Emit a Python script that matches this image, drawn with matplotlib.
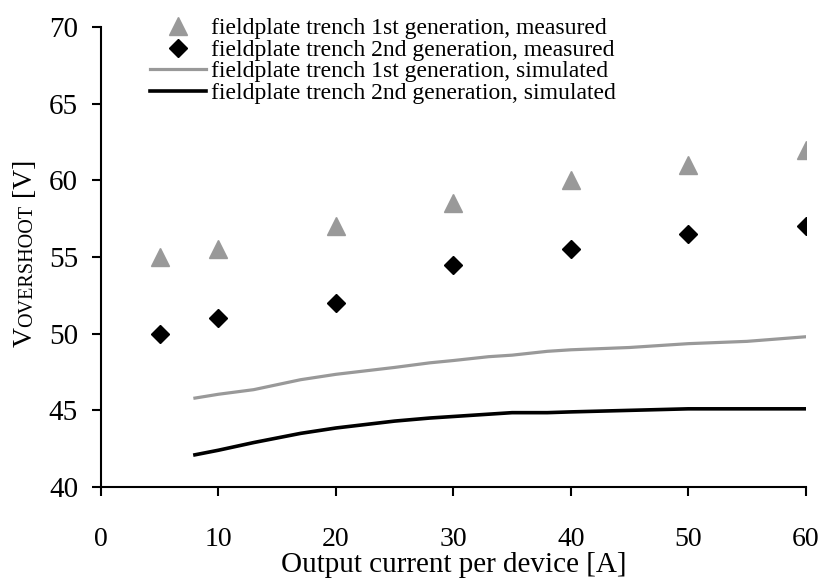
import numpy as np
import matplotlib
matplotlib.use('Agg')
import matplotlib.pyplot as plt

plt.rcParams['font.family'] = ['Liberation Serif', 'DejaVu Serif']

# measured points
x_meas = [5, 10, 20, 30, 40, 50, 60]
gen1_meas = [55, 55.5, 57, 58.5, 60, 61, 62]
gen2_meas = [50, 51, 52, 54.5, 55.5, 56.5, 57]

# simulated curves
x_sim = [8, 10, 13, 17, 20, 25, 28, 30, 33, 35, 38, 40, 45, 50, 55, 60]
gen1_sim = [45.8, 46.05, 46.35, 47.0, 47.35, 47.8, 48.1, 48.25, 48.5, 48.6, 48.85, 48.95, 49.1, 49.35, 49.5, 49.8]
gen2_sim = [42.1, 42.4, 42.9, 43.5, 43.85, 44.3, 44.5, 44.6, 44.75, 44.85, 44.85, 44.9, 45.0, 45.1, 45.1, 45.1]

labels = ['fieldplate trench 1st generation, measured',
          'fieldplate trench 2nd generation, measured',
          'fieldplate trench 1st generation, simulated',
          'fieldplate trench 2nd generation, simulated']

fig = plt.figure(figsize=(8.23, 5.8), dpi=100)
ax = fig.add_axes([0.1227, 0.1603, 0.8563, 0.7931])

ax.plot(x_meas, gen1_meas, '^', color='#999999', ms=13, label=labels[0])
ax.plot(x_meas, gen2_meas, 'D', color='black', ms=8.7, label=labels[1])
ax.plot(x_sim, gen1_sim, '-', color='#999999', lw=2.3, label=labels[2])
ax.plot(x_sim, gen2_sim, '-', color='black', lw=2.6, label=labels[3])

ax.set_xlim(0, 60)
ax.set_ylim(40, 70)
ax.set_xticks(np.arange(0, 61, 10))
ax.set_yticks(np.arange(40, 71, 5))

ax.spines['top'].set_visible(False)
ax.spines['right'].set_visible(False)
for s in ['left', 'bottom']:
    ax.spines[s].set_linewidth(1.5)
ax.tick_params(axis='both', width=1.5, length=6.5)
ax.tick_params(axis='y', labelsize=21, pad=10)
ax.tick_params(axis='x', labelsize=20, pad=22)

ax.set_xlabel('Output current per device [A]', fontsize=21, labelpad=0)

# y label: "V" with small-caps "OVERSHOOT" on the same baseline
t1 = fig.text(32 / 823, 233 / 580, 'V', fontsize=20, rotation=90,
              rotation_mode='anchor', ha='left', va='baseline')
t2 = ax.annotate('OVERSHOOT', xy=(32 / 823, 1), xycoords=('figure fraction', t1),
                 fontsize=14.5, rotation=90, rotation_mode='anchor',
                 ha='left', va='baseline', annotation_clip=False)
t3 = ax.annotate(' [V]', xy=(32 / 823, 1), xycoords=('figure fraction', t2),
                 fontsize=20, rotation=90, rotation_mode='anchor',
                 ha='left', va='baseline', annotation_clip=False)

ax.legend(loc='upper left', bbox_to_anchor=(145 / 823, 567 / 580), bbox_transform=fig.transFigure,
          frameon=False, fontsize=17, handlelength=2.4, handletextpad=0.2,
          labelspacing=0.0, borderpad=0.2, borderaxespad=0.0, numpoints=1)

fig.savefig('out.png', dpi=100)
